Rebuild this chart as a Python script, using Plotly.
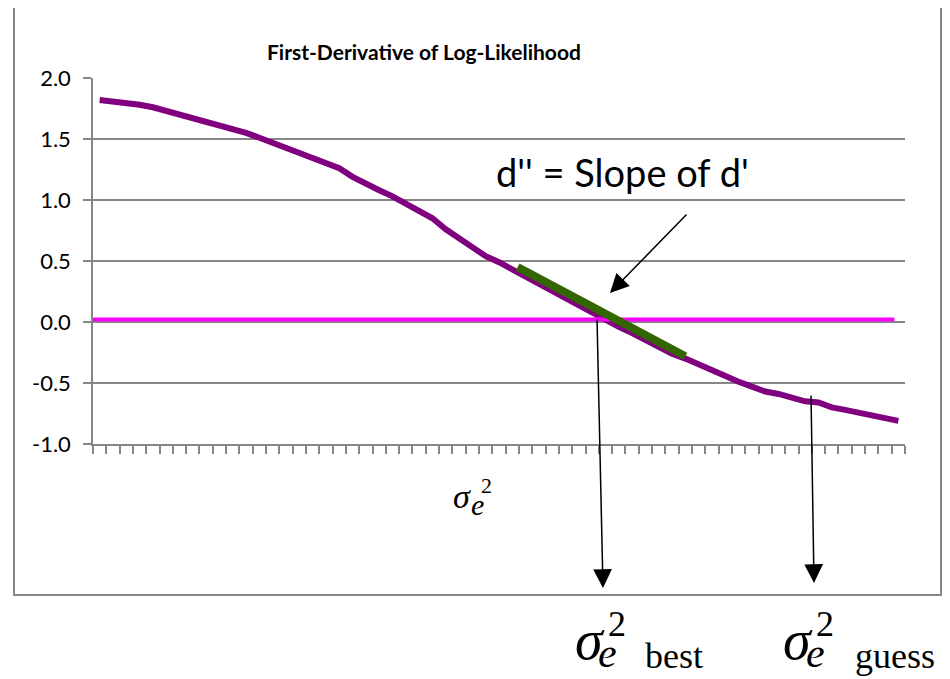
import plotly.graph_objects as go

# ---- data ----
categories = list(range(61))
d1_values = [1.82, 1.81, 1.80, 1.78, 1.76, 1.73, 1.70, 1.67, 1.64, 1.61,
             1.59, 1.55, 1.51, 1.47, 1.42, 1.38, 1.34, 1.30, 1.26, 1.19,
             1.13, 1.08, 1.03, 0.97, 0.91, 0.85, 0.76, 0.69, 0.61, 0.54,
             0.49, 0.43, 0.37, 0.31, 0.25, 0.19, 0.13, 0.07, 0.02, -0.04,
             -0.09, -0.15, -0.20, -0.26, -0.30, -0.35, -0.40, -0.44, -0.49, -0.53,
             -0.57, -0.59, -0.62, -0.65, -0.66, -0.70, -0.72, -0.74, -0.76, -0.78,
             -0.81]
zero_x = [-0.5, 59.7]
zero_y = [0.02, 0.02]
tangent_x = [31.4, 44.0]
tangent_y = [0.45, -0.28]
y_ticks = [-1.0, -0.5, 0.0, 0.5, 1.0, 1.5, 2.0]
x_tick_positions = [i - 0.5 for i in range(62)]

# ---- layout helpers (page pixel -> paper); page has an 8px body margin ----
OFF = 8
W, H = 950 - OFF, 679 - OFF
L, R, T, B = 93 - OFF, 45, 78 - OFF, 243 - OFF
PW, PH = W - L - R, H - T - B


def px(x):
    return (x - OFF - L) / PW


def py(y):
    return (H - B - (y - OFF)) / PH


GRAY = "#868686"
fig = go.Figure()
fig.add_trace(go.Scatter(x=categories, y=d1_values, mode="lines",
                         line=dict(color="#800080", width=6), hoverinfo="skip"))
fig.add_trace(go.Scatter(x=zero_x, y=zero_y, mode="lines",
                         line=dict(color="#FF00FF", width=4), hoverinfo="skip"))
fig.add_trace(go.Scatter(x=tangent_x, y=tangent_y, mode="lines",
                         line=dict(color="#336600", width=8), hoverinfo="skip"))

fig.update_layout(
    width=W, height=H, autosize=False,
    margin=dict(l=L, r=R, t=T, b=B, pad=0),
    paper_bgcolor="white", plot_bgcolor="white",
    showlegend=False,
    font=dict(family="Lato", color="black"),
)
fig.update_xaxes(range=[-0.5, 60.5], tickmode="array", tickvals=x_tick_positions,
                 showticklabels=False, ticks="outside", ticklen=8, tickwidth=1.5,
                 tickcolor=GRAY, showline=True, linecolor=GRAY, linewidth=1.5,
                 showgrid=False, zeroline=False)
fig.update_yaxes(range=[-1.0, 2.0], tickmode="array", tickvals=y_ticks,
                 ticktext=[f"{v:.1f}" for v in y_ticks],
                 ticks="outside", ticklen=8, tickwidth=1.5, tickcolor=GRAY,
                 showline=True, linecolor=GRAY, linewidth=1.5,
                 showgrid=True, gridcolor=GRAY, gridwidth=1.5, zeroline=False,
                 tickfont=dict(family="Lato", size=22, color="black"),
                 ticklabelstandoff=8)

# outer chart border
fig.add_shape(type="rect", xref="paper", yref="paper",
              x0=px(14), x1=px(941), y0=py(595), y1=py(7),
              line=dict(color=GRAY, width=2), fillcolor="rgba(0,0,0,0)", layer="below")

ann = []
ann.append(dict(text="<b>First-Derivative of Log-Likelihood</b>", x=px(424), y=py(52),
                xanchor="center", yanchor="middle",
                font=dict(family="Lato", size=21, color="black")))
ann.append(dict(text="d'' = Slope of d'", x=px(622), y=py(172),
                xanchor="center", yanchor="middle",
                font=dict(family="Lato", size=38, color="black")))
# arrows
ann.append(dict(text="", x=px(610), y=py(293), ax=78, ay=-80, showarrow=True,
                arrowhead=2, arrowsize=2.5, arrowwidth=1.5, arrowcolor="black", standoff=0))
ann.append(dict(text="", x=px(603), y=py(588), ax=-6, ay=-270, showarrow=True,
                arrowhead=2, arrowsize=2.5, arrowwidth=1.5, arrowcolor="black", standoff=0))
ann.append(dict(text="", x=px(814), y=py(583), ax=-3, ay=-189, showarrow=True,
                arrowhead=2, arrowsize=2.5, arrowwidth=1.5, arrowcolor="black", standoff=0))


def sigma_label(x0, yc, s_sig, s_e, s_two, dy_e, dy_two, dx_e, dx_two, suffix=None,
                dx_suf=0, dy_suf=0, s_suf=30):
    out = [
        dict(text="<i>σ</i>", x=px(x0), y=py(yc), xanchor="left", yanchor="middle",
             font=dict(family="Liberation Serif", size=s_sig, color="black")),
        dict(text="<i>e</i>", x=px(x0 + dx_e), y=py(yc + dy_e), xanchor="left", yanchor="middle",
             font=dict(family="Liberation Serif", size=s_e, color="black")),
        dict(text="2", x=px(x0 + dx_two), y=py(yc + dy_two), xanchor="left", yanchor="middle",
             font=dict(family="Liberation Serif", size=s_two, color="black")),
    ]
    if suffix:
        out.append(dict(text=suffix, x=px(x0 + dx_suf), y=py(yc + dy_suf), xanchor="left",
                        yanchor="middle",
                        font=dict(family="Liberation Serif", size=s_suf, color="black")))
    return out


ann += sigma_label(451, 496, 34, 30, 22, 8, -10, 18, 28)
ann += sigma_label(573, 640, 56, 42, 36, 13, -16, 23, 33, "best", 70, 16, 36)
ann += sigma_label(781, 640, 56, 42, 36, 13, -16, 23, 33, "guess", 72, 16, 36)

for a in ann:
    a.setdefault("showarrow", False)
    a["xref"] = "paper"
    a["yref"] = "paper"
fig.update_layout(annotations=ann)

fig.write_html("out.html")
